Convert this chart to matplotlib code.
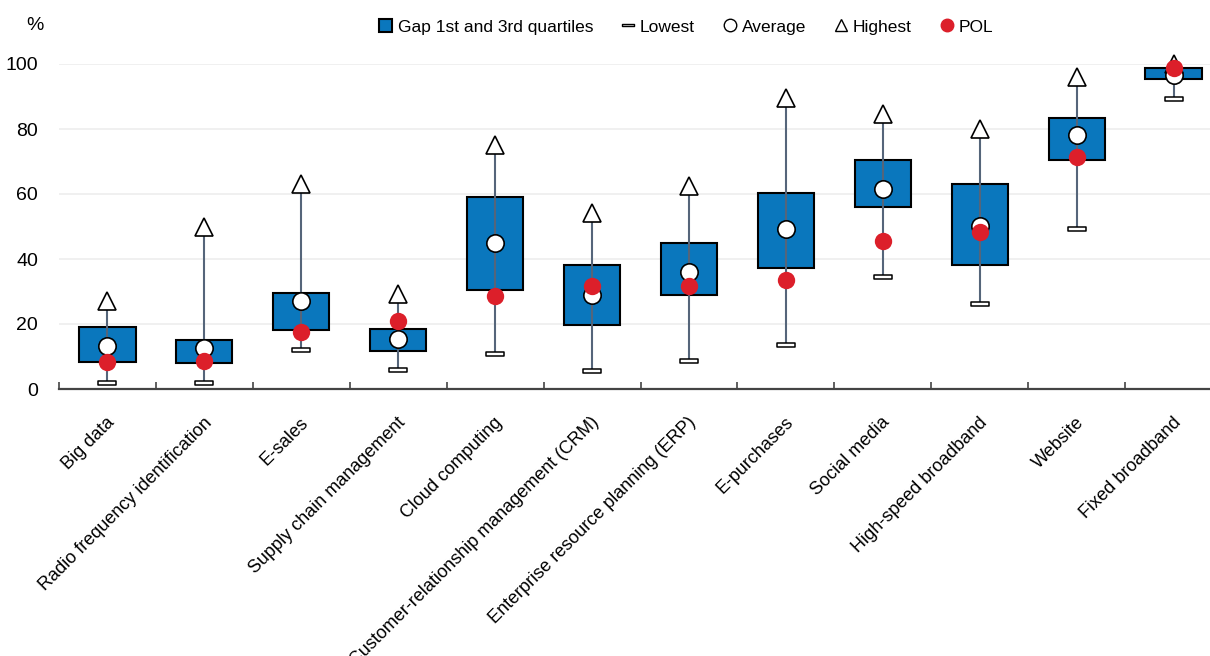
import matplotlib
matplotlib.use("Agg")
import matplotlib.pyplot as plt
import numpy as np
from matplotlib.path import Path
from matplotlib.lines import Line2D
from matplotlib.patches import Patch

plt.rcParams['font.family'] = ['Liberation Sans', 'DejaVu Sans']

categories = [
    "Big data", "Radio frequency identification", "E-sales",
    "Supply chain management", "Cloud computing",
    "Customer-relationship management (CRM)",
    "Enterprise resource planning (ERP)", "E-purchases", "Social media",
    "High-speed broadband", "Website", "Fixed broadband",
]
q1 = [8.3, 8.1, 18.2, 11.6, 30.4, 19.7, 28.8, 37.2, 56.0, 38.1, 70.4, 95.4]
q3 = [19.0, 15.2, 29.5, 18.4, 59.1, 38.2, 44.8, 60.4, 70.6, 63.2, 83.5, 98.8]
lowest = [1.9, 1.8, 11.9, 5.8, 10.7, 5.6, 8.6, 13.5, 34.6, 26.1, 49.2, 89.3]
average = [13.3, 12.7, 27.0, 15.3, 44.9, 29.0, 35.9, 49.3, 61.5, 50.3, 78.3, 96.5]
highest = [27.0, 50.0, 63.1, 29.2, 75.2, 54.2, 62.5, 89.5, 84.6, 80.0, 96.0, 100.0]
pol = [8.4, 8.7, 17.6, 21.0, 28.6, 31.7, 31.8, 33.4, 45.4, 48.2, 71.5, 98.7]
yticks = [0, 20, 40, 60, 80, 100]

BLUE = "#0A77BD"
RED = "#DC1F2A"
WHISKER = "#55657A"
FS = 13

# flat rectangle used as the "lowest" marker
low_marker = Path([(-1, -0.2), (1, -0.2), (1, 0.2), (-1, 0.2), (-1, -0.2)],
                  [Path.MOVETO, Path.LINETO, Path.LINETO, Path.LINETO, Path.CLOSEPOLY])

fig = plt.figure(figsize=(12.1, 6.56), dpi=100)
ax = fig.add_axes([59 / 1210, 267 / 656, 1163 / 1210, 325 / 656])

x = np.arange(len(categories))
q1a, q3a = np.array(q1), np.array(q3)

ax.bar(x, q3a - q1a, bottom=q1a, width=0.58, color=BLUE, edgecolor="black",
       linewidth=1.5, zorder=3)
ax.vlines(x, lowest, highest, color=WHISKER, linewidth=1.5, zorder=4)
ax.plot(x, lowest, linestyle="none", marker=low_marker, markersize=13.5,
        markerfacecolor="white", markeredgecolor="black", markeredgewidth=1.1,
        zorder=5, clip_on=False)
ax.plot(x, highest, linestyle="none", marker="^", markersize=13.5,
        markerfacecolor="white", markeredgecolor="black", markeredgewidth=1.2,
        zorder=5, clip_on=False)
ax.plot(x, average, linestyle="none", marker="o", markersize=12.5,
        markerfacecolor="white", markeredgecolor="black", markeredgewidth=1.2,
        zorder=6, clip_on=False)
ax.plot(x, pol, linestyle="none", marker="o", markersize=12.5,
        markerfacecolor=RED, markeredgecolor=RED, markeredgewidth=0,
        zorder=7, clip_on=False)

ax.set_xlim(-0.5, 11.5)
ax.set_ylim(0, 100)
ax.set_yticks(yticks)
ax.set_yticklabels([str(v) for v in yticks], fontsize=FS + 1)
ax.tick_params(axis="y", length=0, pad=15)
ax.yaxis.grid(True, color="#EDEDED", linewidth=1.2, zorder=0)
ax.set_axisbelow(True)

ax.set_xticks(x)
ax.set_xticklabels([])
ax.tick_params(axis="x", which="major", length=0)
ax.set_xticks(np.arange(-0.5, 12, 1), minor=True)
ax.tick_params(axis="x", which="minor", direction="in", length=5,
               width=1.2, color="#444444")
for xi, lab in zip(x, categories):
    ax.annotate(lab, xy=(xi, 0), xycoords=("data", "axes fraction"),
                xytext=(-1, -18), textcoords="offset points",
                rotation=45, rotation_mode="anchor", ha="right", va="top",
                fontsize=FS)

for side in ("top", "right", "left"):
    ax.spines[side].set_visible(False)
ax.spines["bottom"].set_color("#444444")
ax.spines["bottom"].set_linewidth(1.6)

fig.text(35 / 1210, 1 - 25 / 656, "%", fontsize=FS + 1, ha="center", va="center")

handles = [
    Patch(facecolor=BLUE, edgecolor="black", linewidth=1.5),
    Line2D([], [], linestyle="none", marker=low_marker, markersize=9,
           markerfacecolor="white", markeredgecolor="black", markeredgewidth=1.0),
    Line2D([], [], linestyle="none", marker="o", markersize=9,
           markerfacecolor="white", markeredgecolor="black", markeredgewidth=1.0),
    Line2D([], [], linestyle="none", marker="^", markersize=9,
           markerfacecolor="white", markeredgecolor="black", markeredgewidth=1.0),
    Line2D([], [], linestyle="none", marker="o", markersize=9,
           markerfacecolor=RED, markeredgecolor=RED),
]
labels = ["Gap 1st and 3rd quartiles", "Lowest", "Average", "Highest", "POL"]
fig.legend(handles, labels, loc="center", bbox_to_anchor=(686 / 1210, 1 - 27 / 656),
           ncol=5, frameon=False, fontsize=12.5, handlelength=0.8, handleheight=0.8,
           handletextpad=0.3, columnspacing=1.6, borderpad=0)

fig.savefig("out.png", dpi=100)
